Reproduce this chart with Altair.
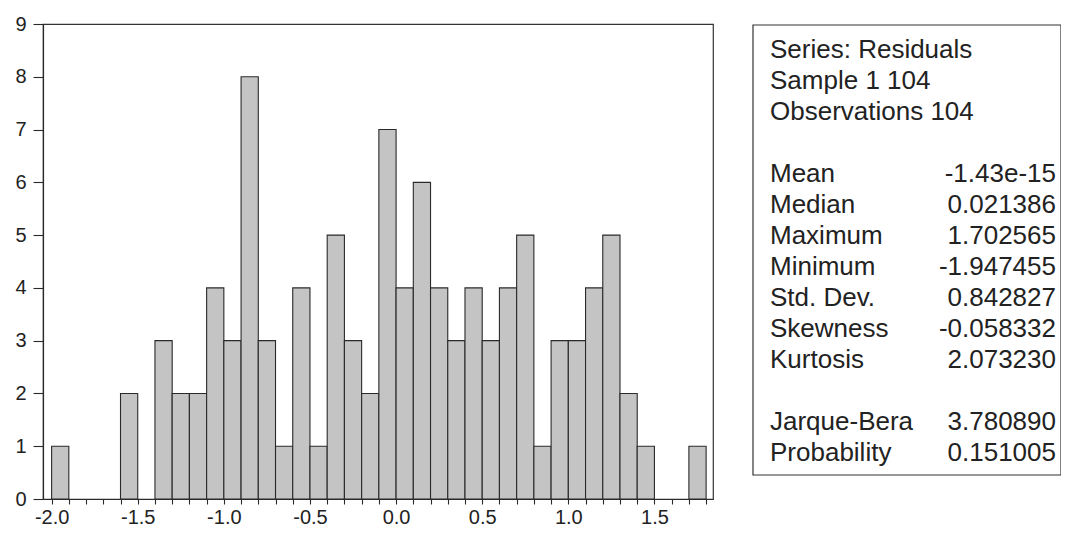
import altair as alt
import pandas as pd

# Histogram bins (left edges) and counts
bin_start = [-2.0, -1.9, -1.8, -1.7, -1.6, -1.5, -1.4, -1.3, -1.2, -1.1,
             -1.0, -0.9, -0.8, -0.7, -0.6, -0.5, -0.4, -0.3, -0.2, -0.1,
             0.0, 0.1, 0.2, 0.3, 0.4, 0.5, 0.6, 0.7, 0.8, 0.9,
             1.0, 1.1, 1.2, 1.3, 1.4, 1.5, 1.6, 1.7]
counts = [1, 0, 0, 0, 2, 0, 3, 2, 2, 4,
          3, 8, 3, 1, 4, 1, 5, 3, 2, 7,
          4, 6, 4, 3, 4, 3, 4, 5, 1, 3,
          3, 4, 5, 2, 1, 0, 0, 1]

x_ticks = [-2.0, -1.9, -1.8, -1.7, -1.6, -1.5, -1.4, -1.3, -1.2, -1.1,
           -1.0, -0.9, -0.8, -0.7, -0.6, -0.5, -0.4, -0.3, -0.2, -0.1,
           0.0, 0.1, 0.2, 0.3, 0.4, 0.5, 0.6, 0.7, 0.8, 0.9,
           1.0, 1.1, 1.2, 1.3, 1.4, 1.5, 1.6, 1.7, 1.8]
y_ticks = [0, 1, 2, 3, 4, 5, 6, 7, 8, 9]

# Statistics panel
stat_labels = ["Series: Residuals", "Sample 1 104", "Observations 104",
               "Mean", "Median", "Maximum", "Minimum", "Std. Dev.",
               "Skewness", "Kurtosis", "Jarque-Bera", "Probability"]
stat_values = ["", "", "",
               "-1.43e-15", "0.021386", "1.702565", "-1.947455", "0.842827",
               "-0.058332", "2.073230", "3.780890", "0.151005"]
stat_rows = [0, 1, 2, 4, 5, 6, 7, 8, 9, 10, 12, 13]

FONT = "Liberation Sans"
INK = "#2a2a2a"

df = pd.DataFrame({"start": bin_start, "count": counts})
df["end"] = df["start"] + 0.1
df = df[df["count"] > 0]

stats = pd.DataFrame({"label": stat_labels, "value": stat_values, "row": stat_rows})

label_expr = ("abs(datum.value*2 - round(datum.value*2)) < 0.001 ? "
              "replace(format(datum.value, '.1f'), '\u2212', '-') : ''")

axis_style = dict(title=None, grid=False, domainColor=INK, tickColor=INK,
                  labelColor="#222222", labelFont=FONT, labelFontSize=20,
                  domainWidth=1.2, tickWidth=1.1)

bars = alt.Chart(df).mark_rect(fill="#c4c4c4", stroke=INK, strokeWidth=1.1).encode(
    x=alt.X("start:Q",
            scale=alt.Scale(domain=[-2.05, 1.84], nice=False, zero=False),
            axis=alt.Axis(values=x_ticks, labelExpr=label_expr, tickSize=5,
                          labelPadding=3, labelFlush=False, labelOverlap=False,
                          **axis_style)),
    x2="end:Q",
    y=alt.Y("count:Q",
            scale=alt.Scale(domain=[0, 9], nice=False),
            axis=alt.Axis(values=y_ticks, tickSize=10, labelPadding=7,
                          format="d", labelOverlap=False, **axis_style)),
    y2=alt.datum(0),
)

box = alt.Chart(pd.DataFrame({"k": [0]})).mark_rect(
    fill="white", stroke="#333333", strokeWidth=1.2
).encode(
    x=alt.value(710), x2=alt.value(1018), y=alt.value(1), y2=alt.value(451)
)

row_scale = alt.Scale(domain=[-26 / 31, 449 / 31], reverse=True, nice=False, zero=False)

labels_text = alt.Chart(stats).mark_text(
    align="left", baseline="middle", font=FONT, fontSize=26, color="#222222"
).encode(
    x=alt.value(727),
    y=alt.Y("row:Q", scale=row_scale, axis=None),
    text="label:N",
)

values_text = alt.Chart(stats).mark_text(
    align="right", baseline="middle", font=FONT, fontSize=26, color="#222222"
).encode(
    x=alt.value(1013),
    y=alt.Y("row:Q", scale=row_scale, axis=None),
    text="value:N",
)

chart = alt.layer(bars, box, labels_text, values_text).resolve_scale(
    y="independent"
).properties(
    width=670, height=475,
    autosize=alt.AutoSizeParams(type="none"),
    padding={"left": 35, "top": 16, "right": 348, "bottom": 27},
    background="white",
).configure_view(
    stroke="#333333", strokeWidth=1.2
)

chart.save("out.html", embed_options={"renderer": "svg", "actions": False})
